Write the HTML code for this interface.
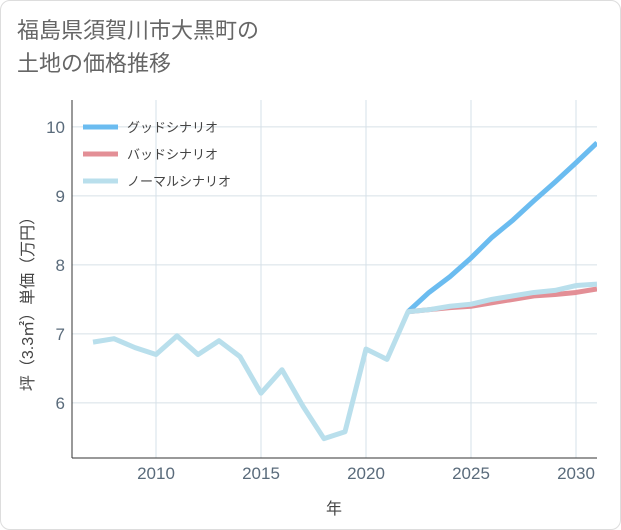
<!DOCTYPE html>
<html><head><meta charset="utf-8"><style>
body{margin:0;background:#fff;}
#wrap{position:relative;width:621px;height:530px;font-family:"Liberation Sans","Noto Sans CJK JP",sans-serif;}
#card{position:absolute;left:0;top:0;width:619px;height:528px;border:1px solid #ddd;border-radius:10px;background:#fff;}
#title{position:absolute;left:17px;top:14px;font-size:22px;line-height:33px;color:#666;}
svg{position:absolute;left:0;top:0;}
text{font-family:"Liberation Sans","Noto Sans CJK JP",sans-serif;}
</style></head><body>
<div id="wrap">
<div id="card"></div>
<div id="title">福島県須賀川市大黒町の<br>土地の価格推移</div>
<svg id="chart" width="621" height="530"></svg>
</div>
<script>
const years=[2007,2008,2009,2010,2011,2012,2013,2014,2015,2016,2017,2018,2019,2020,2021,2022,2023,2024,2025,2026,2027,2028,2029,2030,2031];
const normalVals=[6.88,6.93,6.8,6.7,6.97,6.7,6.9,6.67,6.14,6.48,5.95,5.48,5.58,6.78,6.63,7.32,7.35,7.4,7.43,7.5,7.55,7.6,7.63,7.7,7.72];
const futureYears=[2022,2023,2024,2025,2026,2027,2028,2029,2030,2031];
const goodVals=[7.32,7.6,7.83,8.1,8.4,8.65,8.93,9.2,9.48,9.77];
const badVals=[7.32,7.35,7.38,7.4,7.45,7.5,7.55,7.57,7.6,7.65];
const xTicks=[2010,2015,2020,2025,2030];
const yTicks=[6,7,8,9,10];
const legendLabels=["グッドシナリオ","バッドシナリオ","ノーマルシナリオ"];
const legendColors=["#6bbcf0","#e38f96","#b9dfec"];

const L=72,R=597,T=100,B=458;
const x=v=>L+(v-2006)*(R-L)/25;
const y=v=>B-(v-5.2)*(B-T)/(10.39-5.2);
const svg=document.getElementById('chart');
const NS='http://www.w3.org/2000/svg';
function mk(t,a){const e=document.createElementNS(NS,t);for(const k in a)e.setAttribute(k,a[k]);svg.appendChild(e);return e;}
const defs=mk('defs',{});
const cp=document.createElementNS(NS,'clipPath');cp.setAttribute('id','clip');defs.appendChild(cp);
const cr=document.createElementNS(NS,'rect');cr.setAttribute('x',L);cr.setAttribute('y',T);cr.setAttribute('width',R-L);cr.setAttribute('height',B-T);cp.appendChild(cr);
for(const t of xTicks){
 const g=mk('line',{x1:x(t),x2:x(t),y1:T,y2:B,stroke:'#d6e0e8','stroke-width':1});
 
 
 const tx=mk('text',{x:x(t),y:479,'text-anchor':'middle','font-size':17,fill:'#5a6b7b'});tx.textContent=t;
 
 
}
for(const t of yTicks){
 const g=mk('line',{x1:L,x2:R,y1:y(t),y2:y(t),stroke:'#d6e0e8','stroke-width':1});
 
 
 const tx=mk('text',{x:65,y:y(t)+6,'text-anchor':'end','font-size':17,fill:'#5a6b7b'});tx.textContent=t;
 
 
}
const ax=mk('line',{x1:L,x2:R,y1:B,y2:B,stroke:'#333','stroke-width':1});


const ay=mk('line',{x1:L,x2:L,y1:T,y2:B,stroke:'#333','stroke-width':1});


function line(xs,vs,c,name){
 const p=mk('polyline',{points:xs.map((d,i)=>x(d)+','+y(vs[i])).join(' '),fill:'none',stroke:c,'stroke-width':5,'stroke-linejoin':'round','clip-path':'url(#clip)'});
 
 
}
line(futureYears,goodVals,legendColors[0],'good-scenario-line');
line(futureYears,badVals,legendColors[1],'bad-scenario-line');
line(years,normalVals,legendColors[2],'normal-scenario-line');
legendLabels.forEach((lab,i)=>{
 const yy=127+i*27;
 const l=mk('line',{x1:83,x2:118,y1:yy,y2:yy,stroke:legendColors[i],'stroke-width':5});
 
 
 const t=mk('text',{x:127,y:yy+5,'font-size':13,fill:'#444'});t.textContent=lab;
 
 
});
const xt=mk('text',{x:334,y:514,'text-anchor':'middle','font-size':16,fill:'#444'});xt.textContent='年';


const yt=mk('text',{x:0,y:0,'text-anchor':'middle','font-size':16,fill:'#444',transform:'translate(33,300) rotate(-90)'});yt.textContent='坪（3.3㎡）単価（万円）';


</script>
</body></html>
